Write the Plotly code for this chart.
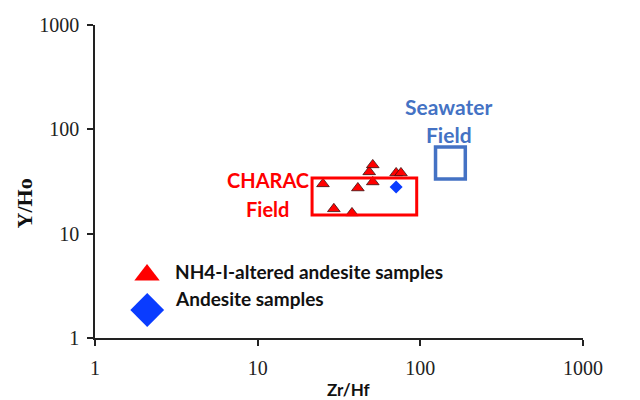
import plotly.graph_objects as go

# ---- data ----
altered_zrhf = [25.2, 41.3, 29.4, 38.0, 51.0, 48.5, 51.0, 71.0, 76.0]
altered_yho  = [30.0, 27.4, 17.3, 15.8, 31.3, 39.1, 45.6, 38.2, 38.2]
andesite_zrhf = [71.0]
andesite_yho  = [28.0]

charac_x = [21.6, 95.0]
charac_y = [15.1, 34.2]
seawater_x = [124.0, 189.0]
seawater_y = [33.5, 67.8]

x_ticks = [1, 10, 100, 1000]
y_ticks = [1, 10, 100, 1000]
legend_names = ["NH4-I-altered andesite samples", "Andesite samples"]

RED = "#FF0000"
BLUE = "#0A3CFF"
SEA = "#4472C4"

fig = go.Figure()

fig.add_trace(go.Scatter(
    x=altered_zrhf, y=altered_yho, mode="markers",
    marker=dict(symbol="triangle-up", size=11, color=RED,
                line=dict(color="#3a1010", width=0.8)),
    showlegend=False))
fig.add_trace(go.Scatter(
    x=andesite_zrhf, y=andesite_yho, mode="markers",
    marker=dict(symbol="diamond", size=10, color=BLUE, line=dict(width=0)),
    showlegend=False))

# legend keys on a hidden overlay axis (0..1 across the plot area)
fig.add_trace(go.Scatter(
    x=[0.1066], y=[0.201], mode="markers", xaxis="x2", yaxis="y2",
    marker=dict(symbol="triangle-up", size=22, color=RED, line=dict(width=0)),
    showlegend=False, hoverinfo="skip"))
fig.add_trace(go.Scatter(
    x=[0.107], y=[0.0895], mode="markers", xaxis="x2", yaxis="y2",
    marker=dict(symbol="diamond", size=26, color=BLUE, line=dict(width=0)),
    showlegend=False, hoverinfo="skip"))

fig.add_shape(type="rect", x0=charac_x[0], x1=charac_x[1], y0=charac_y[0], y1=charac_y[1],
              xref="x", yref="y", line=dict(color=RED, width=3))
fig.add_shape(type="rect", x0=seawater_x[0], x1=seawater_x[1], y0=seawater_y[0], y1=seawater_y[1],
              xref="x", yref="y", line=dict(color=SEA, width=3.5))

def label(x, y, text, size, color, xanchor="center", family="Lato", angle=0):
    fig.add_annotation(x=x, y=y, xref="paper", yref="paper", text=text,
                       showarrow=False, xanchor=xanchor, yanchor="middle",
                       textangle=angle,
                       font=dict(family=family, size=size, color=color))

label(0.3555, 0.505, "<b>CHARAC</b>", 20, RED)
label(0.3535, 0.413, "<b>Field</b>", 20, RED)
label(0.7244, 0.740, "<b>Seawater</b>", 21, SEA)
label(0.7244, 0.651, "<b>Field</b>", 21, SEA)

label(0.160, 0.212, "<b>" + legend_names[0] + "</b>", 19, "#111111", xanchor="left")
label(0.160, 0.126, "<b>" + legend_names[1] + "</b>", 19, "#111111", xanchor="left")

# axis titles
label(0.519, -0.164, "<b>Zr/Hf</b>", 17, "#111111")
label(-0.1455, 0.43, "<b>Y/Ho</b>", 22, "#111111", family="Liberation Serif", angle=-90)

axis_common = dict(
    type="log", range=[0, 3], showgrid=False, zeroline=False,
    showline=True, linecolor="#222222", linewidth=1.5,
    ticks="outside", ticklen=6, tickcolor="#222222", tickwidth=1.5,
    tickfont=dict(family="Liberation Serif", size=20, color="#222222"),
    tickmode="array", fixedrange=True, automargin=False,
)
# the page body adds an 8px offset, so the left/top margins are 8px smaller
fig.update_layout(
    width=640, height=400,
    margin=dict(l=87, r=65, t=17, b=70),
    paper_bgcolor="white", plot_bgcolor="white",
    showlegend=False,
    xaxis=dict(**axis_common, tickvals=x_ticks, ticktext=[str(v) for v in x_ticks],
               ticklabelstandoff=5),
    yaxis=dict(**axis_common, tickvals=y_ticks, ticktext=[str(v) for v in y_ticks],
               ticklabelstandoff=4),
    xaxis2=dict(overlaying="x", range=[0, 1], visible=False, fixedrange=True),
    yaxis2=dict(overlaying="y", range=[0, 1], visible=False, fixedrange=True),
)

fig.write_html("out.html")
